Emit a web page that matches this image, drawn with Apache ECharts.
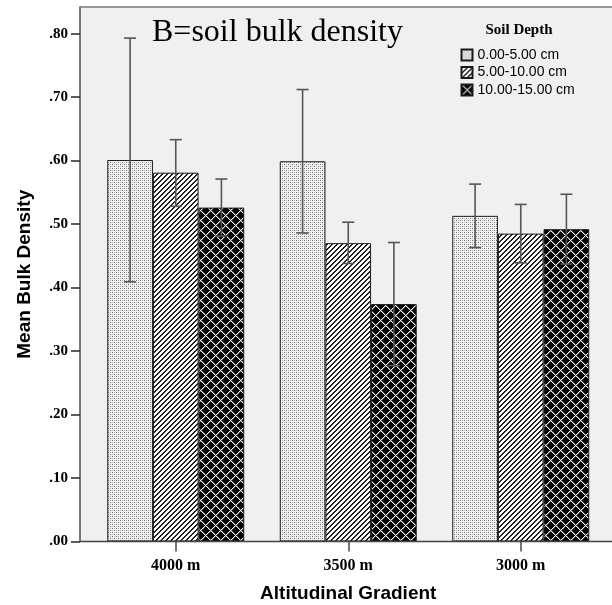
<!DOCTYPE html>
<html>
<head>
<meta charset="utf-8">
<script src="https://cdn.jsdelivr.net/npm/echarts@6/dist/echarts.min.js"></script>
<style>
  html, body { margin: 0; padding: 0; background: #ffffff; }
  #chart { width: 612px; height: 605px; }
</style>
</head>
<body>
<div id="chart"></div>
<script>
// Altitude classes and soil depth layers
const categories = ['4000 m', '3500 m', '3000 m'];
const depths = ['0.00-5.00 cm', '5.00-10.00 cm', '10.00-15.00 cm'];

// Mean bulk density per depth layer
const mean0to5 = [0.601, 0.599, 0.513];
const mean5to10 = [0.581, 0.470, 0.485];
const mean10to15 = [0.526, 0.374, 0.492];

// Error bar limits (lower / upper)
const lower0to5 = [0.409, 0.486, 0.463];
const upper0to5 = [0.793, 0.712, 0.563];
const lower5to10 = [0.528, 0.438, 0.439];
const upper5to10 = [0.633, 0.503, 0.531];
const lower10to15 = [0.481, 0.277, 0.437];
const upper10to15 = [0.571, 0.471, 0.547];

// Y axis tick values
const yTicks = [0, 0.1, 0.2, 0.3, 0.4, 0.5, 0.6, 0.7, 0.8];

const means = [mean0to5, mean5to10, mean10to15];
const lowers = [lower0to5, lower5to10, lower10to15];
const uppers = [upper0to5, upper5to10, upper10to15];

// ---- fill patterns ----
function tile(size, paint) {
  const c = document.createElement('canvas');
  c.width = size; c.height = size;
  const ctx = c.getContext('2d');
  paint(ctx, size);
  return c;
}
const stipple = tile(4, (ctx) => {
  ctx.fillStyle = '#f2f2f2'; ctx.fillRect(0, 0, 4, 4);
  ctx.fillStyle = '#707070';
  ctx.fillRect(0, 0, 1, 1); ctx.fillRect(2, 2, 1, 1);
  ctx.fillStyle = '#b8b8b8';
  ctx.fillRect(0, 2, 1, 1); ctx.fillRect(2, 0, 1, 1);
});
const hatch = tile(5, (ctx, n) => {
  ctx.fillStyle = '#ffffff'; ctx.fillRect(0, 0, n, n);
  ctx.fillStyle = '#222222';
  for (let x = 0; x < n; x++) for (let y = 0; y < n; y++) {
    const k = (x + y) % n;
    if (k === 0 || k === 1) ctx.fillRect(x, y, 1, 1);
  }
});
const lattice = tile(10, (ctx, n) => {
  ctx.fillStyle = '#000000'; ctx.fillRect(0, 0, n, n);
  for (let x = 0; x < n; x++) for (let y = 0; y < n; y++) {
    const a = (x + y) % n, b = (x - y + n) % n;
    if (a === 0 || b === 0) { ctx.fillStyle = '#ffffff'; ctx.fillRect(x, y, 1, 1); }
    else if (a === 1 || b === 1) { ctx.fillStyle = '#5a5a5a'; ctx.fillRect(x, y, 1, 1); }
  }
});
const patterns = [stipple, hatch, lattice];

const GAP = 0.206; // barCategoryGap ratio

const barSeries = depths.map((name, i) => ({
  name: name,
  type: 'bar',
  data: means[i],
  barGap: 0,
  barCategoryGap: (GAP * 100) + '%',
  itemStyle: {
    color: { image: patterns[i], repeat: 'repeat' },
    borderColor: '#1a1a1a',
    borderWidth: 1
  },
  emphasis: { disabled: true }
}));

const errorSeries = depths.map((name, i) => ({
  type: 'custom',
  name: name + ' error',
  z: 5,
  silent: true,
  data: categories.map((c, j) => [j, lowers[i][j], uppers[i][j]]),
  encode: { x: 0, y: [1, 2] },
  renderItem: function (params, api) {
    const cat = api.value(0);
    const lo = api.coord([cat, api.value(1)]);
    const hi = api.coord([cat, api.value(2)]);
    const band = api.size([1, 0])[0];
    const bw = band * (1 - GAP) / 3;
    const x = lo[0] + (i - 1) * bw;
    const cap = 6;
    const st = { stroke: '#555555', lineWidth: 1.6 };
    return {
      type: 'group',
      children: [
        { type: 'line', shape: { x1: x, y1: lo[1], x2: x, y2: hi[1] }, style: st },
        { type: 'line', shape: { x1: x - cap, y1: hi[1], x2: x + cap, y2: hi[1] }, style: st },
        { type: 'line', shape: { x1: x - cap, y1: lo[1], x2: x + cap, y2: lo[1] }, style: st }
      ]
    };
  }
}));

const chart = echarts.init(document.getElementById('chart'), null, { renderer: 'canvas' });

chart.setOption({
  animation: false,
  backgroundColor: '#ffffff',
  grid: { left: 89.5, right: 5, top: 7, bottom: 63.5, containLabel: false,
          outerBoundsMode: 'none' },
  graphic: [
    { type: 'rect', z: -10, silent: true,
      shape: { x: 80, y: 7, width: 532, height: 534.5 },
      style: { fill: '#f0f0f0' } },
    { type: 'line', z: 10, silent: true,
      shape: { x1: 80, y1: 7, x2: 612, y2: 7 },
      style: { stroke: '#7a7a7a', lineWidth: 1.6 } },
    { type: 'line', z: 10, silent: true,
      shape: { x1: 80, y1: 541.5, x2: 612, y2: 541.5 },
      style: { stroke: '#444444', lineWidth: 1.6 } },
    { type: 'text', z: 10, silent: true, x: 152, y: 33,
      style: { text: 'B=soil bulk density', fill: '#000000',
               font: '32px "Liberation Serif", "Times New Roman", serif',
               textVerticalAlign: 'middle', verticalAlign: 'middle' } },
    { type: 'text', z: 10, silent: true, x: 519, y: 30,
      style: { text: 'Soil Depth', fill: '#000000',
               font: 'bold 15px "Liberation Serif", "Times New Roman", serif',
               align: 'center', textAlign: 'center',
               textVerticalAlign: 'middle', verticalAlign: 'middle' } }
  ],
  legend: {
    data: depths,
    orient: 'vertical',
    icon: 'rect',
    left: 460.5,
    top: 48,
    padding: 0,
    itemWidth: 11,
    itemHeight: 11,
    itemGap: 3.5,
    selectedMode: false,
    textStyle: { fontFamily: '"Liberation Sans", Arial, sans-serif', fontSize: 14,
                 color: '#000000', lineHeight: 14 }
  },
  xAxis: {
    type: 'category',
    data: categories,
    name: 'Altitudinal Gradient',
    nameLocation: 'middle',
    nameGap: 43,
    nameTextStyle: { fontFamily: '"Liberation Sans", Arial, sans-serif',
                     fontWeight: 'bold', fontSize: 19, color: '#000000' },
    axisLine: { show: false },
    axisTick: { show: true, alignWithLabel: true, length: 10, inside: false,
                lineStyle: { color: '#555555', width: 1.6 } },
    axisLabel: { margin: 16, color: '#000000',
                 fontFamily: '"Liberation Serif", "Times New Roman", serif',
                 fontWeight: 'bold', fontSize: 16 },
    splitLine: { show: false }
  },
  yAxis: {
    type: 'value',
    min: 0,
    max: 0.842,
    offset: 9.5,
    name: 'Mean Bulk Density',
    nameLocation: 'middle',
    nameGap: 46,
    nameRotate: 90,
    nameTextStyle: { fontFamily: '"Liberation Sans", Arial, sans-serif',
                     fontWeight: 'bold', fontSize: 19, color: '#000000' },
    axisLine: { show: true, lineStyle: { color: '#555555', width: 1.6 } },
    axisTick: { show: true, length: 9, customValues: yTicks,
                lineStyle: { color: '#333333', width: 1.6 } },
    axisLabel: { customValues: yTicks, margin: 12, color: '#000000',
                 fontFamily: '"Liberation Serif", "Times New Roman", serif',
                 fontWeight: 'bold', fontSize: 15,
                 formatter: (v) => v.toFixed(2).replace(/^0/, '') },
    splitLine: { show: false }
  },
  series: barSeries.concat(errorSeries)
});
</script>
</body>
</html>
